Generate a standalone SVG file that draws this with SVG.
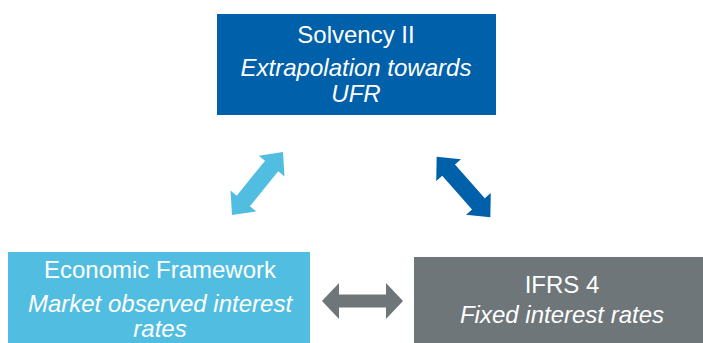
<svg xmlns="http://www.w3.org/2000/svg" width="703" height="343" viewBox="0 0 703 343">
<style>
.t{font-family:"Liberation Sans",Arial,sans-serif;font-size:24px;fill:#ffffff;text-anchor:middle}
.i{font-style:italic}
</style>
<defs>
<polygon id="dbl" points="-40.5,0 -23.5,-18 -23.5,-6.5 23.5,-6.5 23.5,-18 40.5,0 23.5,18 23.5,6.5 -23.5,6.5 -23.5,18"/>
<polygon id="diag" points="-40.5,0 -22.5,-16.5 -22.5,-8.5 22.5,-8.5 22.5,-16.5 40.5,0 22.5,16.5 22.5,8.5 -22.5,8.5 -22.5,16.5"/>
</defs>
<rect width="703" height="343" fill="#ffffff"/>
<g id="solvency">
<rect x="217" y="14" width="279" height="101" fill="#0060A9"/>
<text class="t" x="356" y="43">Solvency II</text>
<text class="t i" x="356" y="76">Extrapolation towards</text>
<text class="t i" x="356" y="102">UFR</text>
</g>
<g id="economic">
<rect x="8" y="252" width="302" height="91" fill="#51BEE1"/>
<text class="t" x="160" y="278">Economic Framework</text>
<text class="t i" x="160" y="312">Market observed interest</text>
<text class="t i" x="160" y="337">rates</text>
</g>
<g id="ifrs">
<rect x="414" y="257" width="289" height="86" fill="#6E7679"/>
<text class="t" x="562" y="293">IFRS 4</text>
<text class="t i" x="562" y="323">Fixed interest rates</text>
</g>
<g id="connectors">
<use href="#diag" fill="#51BEE1" transform="translate(257.5,183.5) rotate(-51)"/>
<use href="#diag" fill="#0060A9" transform="translate(463.5,187) rotate(48.5)"/>
<use href="#dbl" fill="#6E7679" transform="translate(362.5,301)"/>
</g>
</svg>
